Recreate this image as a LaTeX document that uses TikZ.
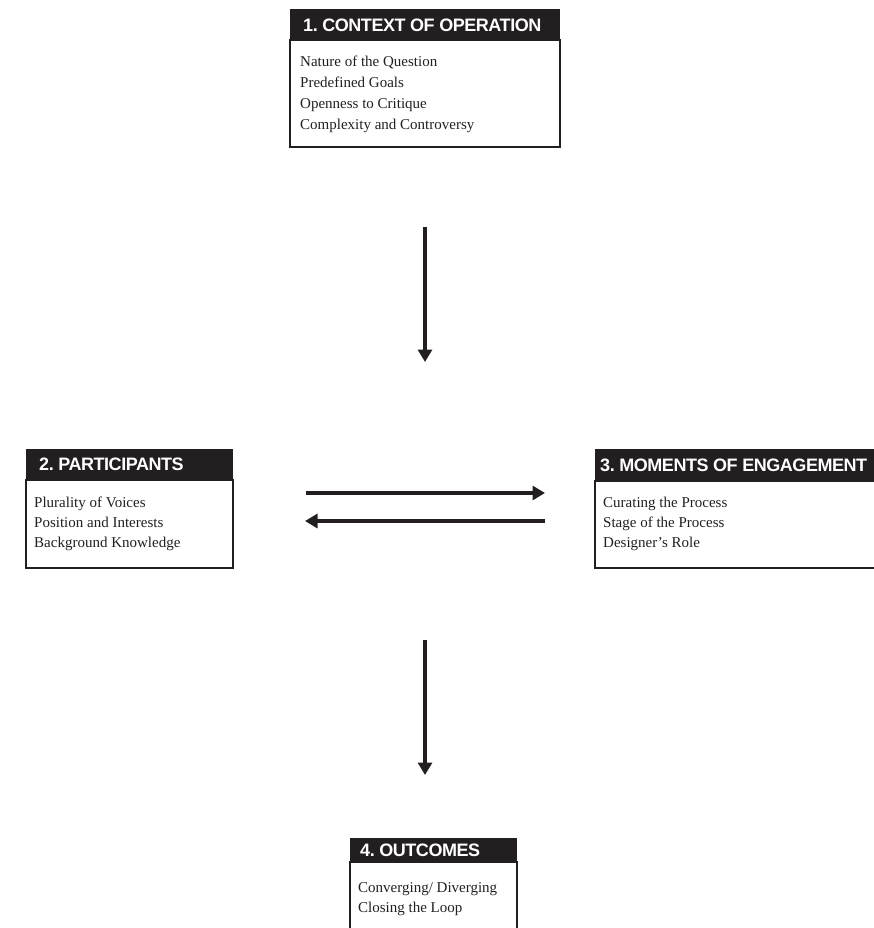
\documentclass[tikz,border=0pt]{standalone}
\usepackage{fontspec}
\setmainfont{Liberation Serif}
\newfontfamily\headfont{Liberation Sans}[LetterSpace=-2.5]
\usetikzlibrary{arrows.meta}
\definecolor{ink}{HTML}{231F20}
\frenchspacing
\begin{document}
\begin{tikzpicture}[x=1pt,y=-1pt,
  hdrbar/.style={fill=ink, draw=none, anchor=north west, inner sep=0, outer sep=0},
  hdrtext/.style={anchor=base west, inner sep=0, text=white,
    font=\headfont\bfseries\fontsize{18}{20}\selectfont},
  bodybox/.style={draw=ink, line width=2pt, anchor=north west, inner sep=0, outer sep=0},
  item/.style={anchor=base west, inner sep=0, text=ink, font=\fontsize{15}{18}\selectfont},
  flow/.style={draw=ink, line width=3.1pt, -{Triangle[length=12.5pt,width=14pt]}}
]
\useasboundingbox (0,0) rectangle (874,928);
\clip (0,0) rectangle (874,928);

% 1. Context of operation
\node[bodybox, minimum width=270, minimum height=107] (b1) at (290,40) {};
\node[hdrbar, minimum width=270, minimum height=31] (h1) at (290,9) {};
\node[hdrtext] (t1) at (303,32) {1. CONTEXT OF OPERATION};
\node[item] (i11) at (300,67)  {Nature of the Question};
\node[item] (i12) at (300,88)  {Predefined Goals};
\node[item] (i13) at (300,109) {Openness to Critique};
\node[item] (i14) at (300,130) {Complexity and Controversy};

% 2. Participants
\node[bodybox, minimum width=207, minimum height=88] (b2) at (26,480) {};
\node[hdrbar, minimum width=207, minimum height=31] (h2) at (26,449) {};
\node[hdrtext] (t2) at (39,470) {2. PARTICIPANTS};
\node[item] (i21) at (34,507) {Plurality of Voices};
\node[item] (i22) at (34,527) {Position and Interests};
\node[item] (i23) at (34,547) {Background Knowledge};

% 3. Moments of engagement (runs past the right edge)
\node[bodybox, minimum width=300, minimum height=87] (b3) at (595,481) {};
\node[hdrbar, minimum width=300, minimum height=32] (h3) at (595,449) {};
\node[hdrtext] (t3) at (600,471) {3. MOMENTS OF ENGAGEMENT};
\node[item] (i31) at (603,507) {Curating the Process};
\node[item] (i32) at (603,527) {Stage of the Process};
\node[item] (i33) at (603,547) {Designer’s Role};

% 4. Outcomes (runs past the bottom edge)
\node[bodybox, minimum width=167, minimum height=90] (b4) at (350,862) {};
\node[hdrbar, minimum width=167, minimum height=24] (h4) at (350,838) {};
\node[hdrtext] (t4) at (360,856) {4. OUTCOMES};
\node[item] (i41) at (358,892) {Converging/ Diverging};
\node[item] (i42) at (358,912) {Closing the Loop};

% connector ends
\coordinate (a1s) at (425,227);
\coordinate (a1e) at (425,362);
\coordinate (a2s) at (306,493);
\coordinate (a2e) at (545,493);
\coordinate (a3s) at (545,521);
\coordinate (a3e) at (305,521);
\coordinate (a4s) at (425,640);
\coordinate (a4e) at (425,775);

\draw[flow] (a1s) -- (a1e);
\draw[flow] (a2s) -- (a2e);
\draw[flow] (a3s) -- (a3e);
\draw[flow] (a4s) -- (a4e);
\end{tikzpicture}
\end{document}
